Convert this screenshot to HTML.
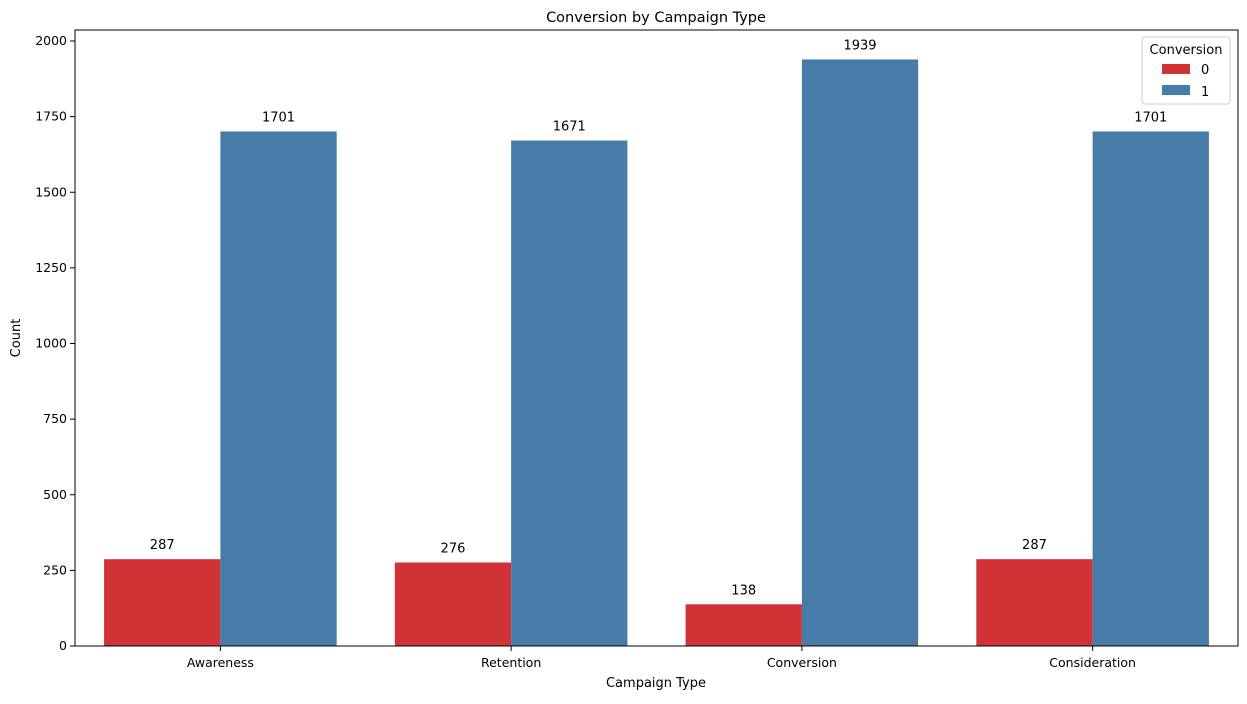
<!DOCTYPE html>
<html><head><meta charset="utf-8"><style>
body{margin:0;background:#fff;}
svg{font-family:"DejaVu Sans","Liberation Sans",sans-serif;}
</style></head><body>
<svg id="chart" width="1247" height="699"></svg>
<script>
const categories=["Awareness","Retention","Conversion","Consideration"];
const series0=[287,276,138,287];
const series1=[1701,1671,1939,1701];
const yTicks=[0,250,500,750,1000,1250,1500,1750,2000];
const L=75,R=1238,T=30,B=646;
const svg=document.getElementById('chart');
const NS="http://www.w3.org/2000/svg";
function y(v){return B-v*(605/2000);}
const bw=(R-L)/categories.length;
function x(i){return L+bw*(i+0.5);}
function mk(tag,attrs,name,text){const e=document.createElementNS(NS,tag);for(const k in attrs)e.setAttribute(k,attrs[k]);


if(text!==undefined)e.textContent=text;svg.appendChild(e);return e;}
mk('text',{x:656,y:22,'text-anchor':'middle','font-size':14.5},'chart-title','Conversion by Campaign Type');
const w=bw*0.4;
categories.forEach((c,i)=>{
  const cx=x(i);
  mk('rect',{x:cx-w,y:y(series0[i]),width:w,height:B-y(series0[i]),fill:'#d03236'},'bar-'+c.toLowerCase()+'-0');
  mk('rect',{x:cx,y:y(series1[i]),width:w,height:B-y(series1[i]),fill:'#477ca8'},'bar-'+c.toLowerCase()+'-1');
  mk('text',{x:cx-w/2,y:y(series0[i])-10,'text-anchor':'middle','font-size':13},'value-label',String(series0[i]));
  mk('text',{x:cx+w/2,y:y(series1[i])-10,'text-anchor':'middle','font-size':13},'value-label',String(series1[i]));
  mk('line',{x1:cx,x2:cx,y1:B,y2:B+5,stroke:'#000'},'x-tick');
  mk('text',{x:cx,y:B+21,'text-anchor':'middle','font-size':12.5},'x-tick-label',c);
});
yTicks.forEach(t=>{
  mk('line',{x1:L-5,x2:L,y1:y(t),y2:y(t),stroke:'#000'},'y-tick');
  mk('text',{x:L-8,y:y(t)+4,'text-anchor':'end','font-size':12.5},'y-tick-label',String(t));
});
mk('rect',{x:L,y:T,width:R-L,height:B-T,fill:'none',stroke:'#000','stroke-width':1},'plot-frame');
mk('text',{x:656,y:687,'text-anchor':'middle','font-size':13},'x-axis-title','Campaign Type');
mk('text',{x:20,y:338,'text-anchor':'middle','font-size':13,transform:'rotate(-90 20 338)'},'y-axis-title','Count');
mk('rect',{x:1142,y:37,width:88,height:67,rx:3,fill:'#fff',stroke:'#ccc'},'legend');
mk('text',{x:1186,y:54,'text-anchor':'middle','font-size':13},'legend-title','Conversion');
mk('rect',{x:1162,y:64,width:28,height:10,fill:'#d03236'},'legend-swatch-0');
mk('text',{x:1201,y:74,'font-size':13},'legend-label-0','0');
mk('rect',{x:1162,y:85,width:28,height:10,fill:'#477ca8'},'legend-swatch-1');
mk('text',{x:1201,y:96,'font-size':13},'legend-label-1','1');
</script>
</body></html>
